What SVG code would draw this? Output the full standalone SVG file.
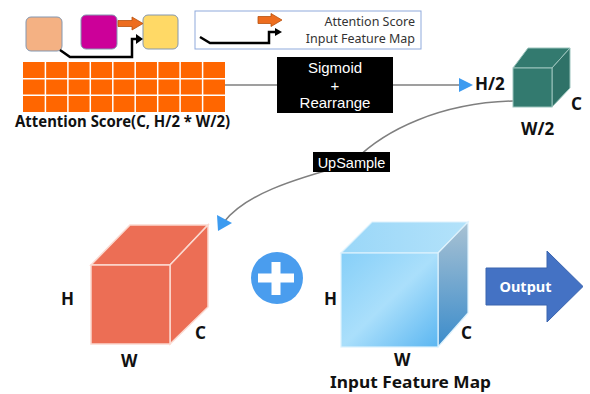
<svg xmlns="http://www.w3.org/2000/svg" width="590" height="394" viewBox="0 0 590 394">
<defs>
<style>
.lbl{font-family:"Noto Sans","Open Sans","DejaVu Sans",sans-serif;font-weight:bold;fill:#111;}
.reg{font-family:"Noto Sans","Open Sans","DejaVu Sans",sans-serif;fill:#333;}
.wt{font-family:"Liberation Sans",Arial,sans-serif;fill:#fff;}
.conn{fill:none;stroke:#7f7f7f;stroke-width:1.5;}
.blk{fill:none;stroke:#000;stroke-width:2.5;}
</style>
<linearGradient id="gFront" x1="0" y1="0" x2="1" y2="1">
<stop offset="0" stop-color="#86CFF8"/>
<stop offset="0.5" stop-color="#AADFFB"/>
<stop offset="1" stop-color="#5BB6F1"/>
</linearGradient>
<linearGradient id="gSide" x1="0" y1="0" x2="0" y2="1">
<stop offset="0" stop-color="#A9C2D3"/>
<stop offset="1" stop-color="#3B8CCB"/>
</linearGradient>
<linearGradient id="gTop" x1="0" y1="0" x2="1" y2="0">
<stop offset="0" stop-color="#9AD7F8"/>
<stop offset="1" stop-color="#B3E2FA"/>
</linearGradient>
</defs>

<g id="connectors">
<line class="conn" x1="225" y1="85" x2="277" y2="85"/>
<line class="conn" x1="393" y1="85" x2="462" y2="85"/>
<polygon points="459,78 473,85 459,92" fill="#3D9BF0"/>
<path class="conn" d="M513,101 C440,103 385,130 355,160"/>
<path class="conn" d="M350,164 C290,180 245,195 224,222"/>
<polygon points="217,215 232,223 218,231" fill="#3D9BF0"/>
</g>

<g id="legend-icons">
<rect x="26" y="17" width="36" height="34" rx="5" fill="#F4B183" stroke="#8497B0" stroke-width="1"/>
<rect x="81" y="15" width="36" height="34" rx="5" fill="#CC0099" stroke="#8497B0" stroke-width="1"/>
<rect x="143" y="15" width="35" height="34" rx="5" fill="#FFD966" stroke="#8497B0" stroke-width="1"/>
<polygon points="118,20.5 132,20.5 132,17 143,23.5 132,30 132,26.5 118,26.5" fill="#ED6D1F" stroke="#B8520E" stroke-width="0.8"/>
<polyline class="blk" points="60,50 70,57 132,57 132,39 137,39"/>
<polygon points="136,34 143,39 136,44" fill="#000"/>
</g>

<g id="legend">
<rect x="195" y="11" width="226" height="38" fill="#fff" stroke="#8FAADC" stroke-width="1"/>
<polygon points="258,16.5 271,16.5 271,13.5 282,20 271,26.5 271,23.5 258,23.5" fill="#ED6D1F" stroke="#B8520E" stroke-width="0.8"/>
<polyline class="blk" points="200,37 210,43 269,43 269,32 276,32"/>
<polygon points="275,28 282,32 275,36" fill="#000"/>
<text class="reg" x="415" y="26" font-size="12.5" text-anchor="end">Attention Score</text>
<text class="reg" x="415" y="43" font-size="12.5" text-anchor="end">Input Feature Map</text>
</g>

<g id="attention-score">
<rect x="23" y="62" width="202" height="50" fill="#FF6600"/>
<g stroke="#fff" stroke-width="1.5">
<line x1="45.4" y1="62" x2="45.4" y2="112"/>
<line x1="67.9" y1="62" x2="67.9" y2="112"/>
<line x1="90.3" y1="62" x2="90.3" y2="112"/>
<line x1="112.8" y1="62" x2="112.8" y2="112"/>
<line x1="135.2" y1="62" x2="135.2" y2="112"/>
<line x1="157.7" y1="62" x2="157.7" y2="112"/>
<line x1="180.1" y1="62" x2="180.1" y2="112"/>
<line x1="202.6" y1="62" x2="202.6" y2="112"/>
<line x1="23" y1="78.7" x2="225" y2="78.7"/>
<line x1="23" y1="95.3" x2="225" y2="95.3"/>
</g>
<text class="lbl" x="15" y="127" font-size="16" textLength="215" lengthAdjust="spacingAndGlyphs">Attention Score(C, H/2 * W/2)</text>
</g>

<g id="sigmoid">
<rect x="277" y="57" width="116" height="56" fill="#000"/>
<text class="wt" x="335" y="73" font-size="15" text-anchor="middle">Sigmoid</text>
<text class="wt" x="335" y="91" font-size="15" text-anchor="middle">+</text>
<text class="wt" x="335" y="108" font-size="15" text-anchor="middle">Rearrange</text>
</g>

<g id="small-cube">
<polygon points="513,68 528,48 570,48 552,68" fill="#337A6F" stroke="#9CC4BD" stroke-width="1"/>
<polygon points="552,68 570,48 570,88 552,107" fill="#2F7268" stroke="#9CC4BD" stroke-width="1"/>
<rect x="513" y="68" width="39" height="39" fill="#337A6F" stroke="#9CC4BD" stroke-width="1"/>
<text class="lbl" x="475" y="90" font-size="17">H/2</text>
<text class="lbl" x="571" y="110" font-size="17">C</text>
<text class="lbl" x="521" y="135" font-size="17">W/2</text>
</g>

<g id="upsample">
<rect x="313" y="152" width="77" height="20" fill="#000"/>
<text class="wt" x="351.5" y="167.5" font-size="14.5" text-anchor="middle">UpSample</text>
</g>

<g id="red-cube">
<polygon points="91,265 130,225 208,225 170,265" fill="#EC6E55" stroke="#FBD9D0" stroke-width="1.5"/>
<polygon points="170,265 208,225 208,307 170,344" fill="#EC6E55" stroke="#FBD9D0" stroke-width="1.5"/>
<rect x="91" y="265" width="79" height="79" fill="#EC6E55" stroke="#FBD9D0" stroke-width="1.5"/>
<text class="lbl" x="61" y="305" font-size="17">H</text>
<text class="lbl" x="195" y="339" font-size="17">C</text>
<text class="lbl" x="121" y="367" font-size="17">W</text>
</g>

<g id="plus">
<circle cx="277" cy="278" r="26" fill="#4A9DEE"/>
<rect x="258" y="273.5" width="36" height="9" fill="#fff"/>
<rect x="271.5" y="262" width="9" height="33" fill="#fff"/>
</g>

<g id="input-cube">
<polygon points="341,253 372,222 468,222 438,253" fill="url(#gTop)" stroke="#DDF2FD" stroke-width="1.2"/>
<polygon points="438,253 468,222 468,313 438,347" fill="url(#gSide)" stroke="#DDF2FD" stroke-width="1.2"/>
<rect x="341" y="253" width="97" height="94" fill="url(#gFront)" stroke="#DDF2FD" stroke-width="1.2"/>
<text class="lbl" x="324" y="305" font-size="17">H</text>
<text class="lbl" x="461" y="339" font-size="17">C</text>
<text class="lbl" x="394" y="366" font-size="17">W</text>
<text class="lbl" x="330" y="388" font-size="16.5" textLength="161" lengthAdjust="spacingAndGlyphs">Input Feature Map</text>
</g>

<g id="output">
<polygon points="486,268 547,268 547,251 583,286.5 547,322 547,305 486,305" fill="#4472C4" stroke="#3A64AE" stroke-width="1"/>
<text x="525.5" y="292" font-size="14.5" font-family="Noto Sans, Open Sans, sans-serif" font-weight="bold" fill="#fff" text-anchor="middle">Output</text>
</g>
</svg>
